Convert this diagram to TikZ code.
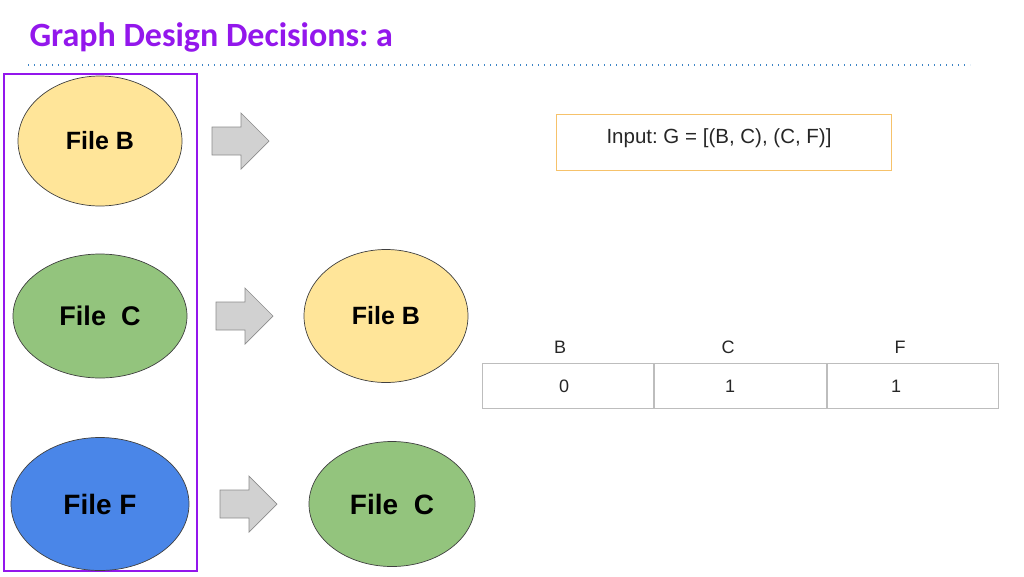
\documentclass[tikz,border=0pt]{standalone}
\usepackage{fontspec}
\setmainfont{Liberation Sans}
\newfontfamily\titlefont{Carlito}
\usetikzlibrary{positioning, shapes.geometric}
\definecolor{titlepurple}{HTML}{9317EC}
\definecolor{dotblue}{HTML}{3D85C6}
\definecolor{fileyellow}{HTML}{FFE599}
\definecolor{filegreen}{HTML}{93C47D}
\definecolor{fileblue}{HTML}{4A86E8}
\definecolor{inputorange}{HTML}{F6C26B}
\definecolor{cellgray}{HTML}{BDBDBD}
\frenchspacing

\begin{document}
\begin{tikzpicture}[x=1pt, y=-1pt,
		file/.style = {ellipse, draw = black!75, line width = 0.7pt, inner sep = 0pt, font = \bfseries},
		blockarrow/.style = {draw = black!45, fill = black!18, line width = 0.7pt},
		cell/.style = {rectangle, draw = cellgray, line width = 0.8pt, minimum width = 171.7pt, minimum height = 45pt},
		tabletext/.style = {font = \fontsize{18}{21}\selectfont, text = black!85},
	]
	\useasboundingbox (0,0) rectangle (1024,576);

	% title and dotted rule
	\node[anchor = west, text = titlepurple, font = \titlefont\bfseries\fontsize{34}{38}\selectfont] (title) at (26,37) {Graph Design Decisions: a};
	\coordinate (ruleL) at (28,65);
	\coordinate (ruleR) at (970,65);
	\draw[dotblue, line width = 1.4pt, dash pattern = on 1.4pt off 4.6pt] (ruleL) -- (ruleR);

	% frame round the left column
	\node[draw = titlepurple, line width = 1.3pt, minimum width = 193pt, minimum height = 497pt, inner sep = 0pt] (frame) at (100.5,322.5) {};

	% left column
	\node[file, fill = fileyellow, minimum width = 164pt, minimum height = 130pt, font = \bfseries\fontsize{25}{28}\selectfont] (fileB) at (100,141) {File B};
	\node[file, fill = filegreen, minimum width = 174pt, minimum height = 124pt, font = \bfseries\fontsize{27}{30}\selectfont] (fileC) at (100,316) {File\ \ C};
	\node[file, fill = fileblue, minimum width = 178pt, minimum height = 133pt, font = \bfseries\fontsize{28}{31}\selectfont] (fileF) at (100,504) {File F};

	% right column
	\node[file, fill = fileyellow, minimum width = 164pt, minimum height = 133pt, font = \bfseries\fontsize{25}{28}\selectfont] (outB) at (386,316) {File B};
	\node[file, fill = filegreen, minimum width = 166pt, minimum height = 125pt, font = \bfseries\fontsize{28}{31}\selectfont] (outC) at (392,504) {File\ \ C};

	% block arrows
	\foreach \lx/\cy in {212/141, 216/316, 220/504}{
		\draw[blockarrow] (\lx,\cy-14) -- ++(29,0) -- ++(0,-14) -- ++(28,28) -- ++(-28,28) -- ++(0,-14) -- ++(-29,0) -- cycle;
	}

	% input box
	\node[draw = inputorange, line width = 1pt, minimum width = 335pt, minimum height = 56pt] (input) at (723.5,142) {};
	\node[font = \fontsize{20.5}{23}\selectfont, text = black!85] (inputText) at (719,138) {Input: G = [(B, C), (C, F)]};

	% table
	\node[cell] (cellB) at (568,385.5) {};
	\node[cell, right = 0pt of cellB] (cellC) {};
	\node[cell, right = 0pt of cellC] (cellF) {};
	\node[tabletext] (valB) at (564,386) {0};
	\node[tabletext] (valC) at (730,386) {1};
	\node[tabletext] (valF) at (896,386) {1};
	\node[tabletext] (headB) at (560,347) {B};
	\node[tabletext] (headC) at (728,347) {C};
	\node[tabletext] (headF) at (900,347) {F};

\end{tikzpicture}
\end{document}
